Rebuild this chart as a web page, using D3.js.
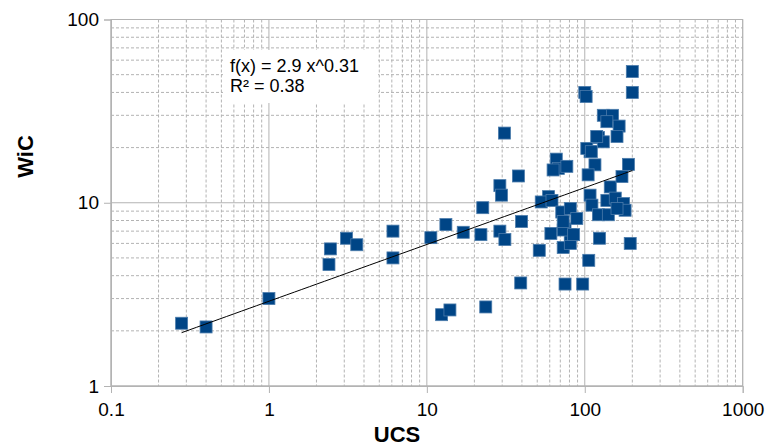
<!DOCTYPE html>
<html>
<head>
<meta charset="utf-8">
<script src="https://cdn.jsdelivr.net/npm/d3@7"></script>
<style>
  body { margin: 0; background: #fff; }
  text { font-family: "Liberation Sans", Arial, sans-serif; }
</style>
</head>
<body>
<div class="container"></div>
<script>
// data (log-log scatter)
var ucs = [0.28, 0.4, 1.0, 2.4, 2.45, 3.1, 3.6, 6.1, 6.1, 10.6, 13.2, 17, 22.6, 22, 29, 29.7, 29, 31.2,
  12.4, 14, 23.6, 39.8, 51.5, 61, 39.3, 75, 97, 106, 124, 194, 73, 81, 81, 75, 38, 31,
  66, 68, 77, 63, 59, 53, 62, 71.5, 81, 89, 73, 85, 108, 116, 105, 108, 111, 122, 141, 145,
  172, 189, 138, 156, 176, 180, 160, 100, 102, 200, 200, 131, 150, 138, 165, 160, 122, 131,
  103, 110, 119, 73];
var wic = [2.2, 2.1, 3.0, 4.6, 5.6, 6.4, 5.9, 7.0, 5.0, 6.45, 7.6, 6.9, 9.4, 6.7, 12.4, 11.0, 7.0, 6.3,
  2.45, 2.6, 2.7, 7.9, 5.5, 6.8, 3.65, 3.6, 3.6, 4.85, 6.4, 6.0, 5.7, 6.0, 6.7, 7.2, 14.0, 24,
  17.3, 15.4, 15.8, 15.1, 10.8, 10.1, 10.3, 8.9, 9.3, 8.2, 7.1, 6.7, 19.0, 16.1, 14.2, 11.0, 9.7, 8.6, 8.6, 12.2,
  13.9, 16.2, 10.3, 10.6, 9.9, 9.1, 9.3, 40, 38, 52, 40, 30, 30, 27.7, 26.2, 23, 22.7, 21.5,
  19.8, 19.0, 23, 7.9];

var xTicks = [0.1, 1, 10, 100, 1000];
var yTicks = [1, 10, 100];
var fitA = 2.9, fitB = 0.31;
var fitLines = ["f(x) = 2.9 x^0.31", "R\u00b2 = 0.38"];

var svgWidth = 770;
var svgHeight = 447;
var margin = { top: 19.5, right: 27.3, bottom: 61, left: 111 };
var width = svgWidth - margin.left - margin.right;
var height = svgHeight - margin.top - margin.bottom;

var svg = d3.select(".container")
  .append("svg")
  .attr("width", svgWidth)
  .attr("height", svgHeight);

var chartGroup = svg.append("g")
  .attr("transform", `translate(${margin.left}, ${margin.top})`);

var x = d3.scaleLog().domain([0.1, 1000]).range([0, width]);
var y = d3.scaleLog().domain([1, 100]).range([height, 0]);

// minor grid (dashed)
var minorX = [], minorY = [];
[0.1, 1, 10, 100].forEach(function(d) {
  for (var k = 2; k <= 9; k++) minorX.push(d * k);
});
[1, 10].forEach(function(d) {
  for (var k = 2; k <= 9; k++) minorY.push(d * k);
});

chartGroup.append("g").selectAll("line")
  .data(minorX)
  .enter().append("line")
  .attr("x1", d => x(d)).attr("x2", d => x(d))
  .attr("y1", 0).attr("y2", height)
  .attr("stroke", "#b3b3b3")
  .attr("stroke-dasharray", "3,2");

chartGroup.append("g").selectAll("line")
  .data(minorY)
  .enter().append("line")
  .attr("y1", d => y(d)).attr("y2", d => y(d))
  .attr("x1", 0).attr("x2", width)
  .attr("stroke", "#b3b3b3")
  .attr("stroke-dasharray", "3,2");

// major grid (solid)
chartGroup.append("g").selectAll("line")
  .data(xTicks)
  .enter().append("line")
  .attr("x1", d => x(d)).attr("x2", d => x(d))
  .attr("y1", 0).attr("y2", height)
  .attr("stroke", "#b3b3b3");

chartGroup.append("g").selectAll("line")
  .data(yTicks)
  .enter().append("line")
  .attr("y1", d => y(d)).attr("y2", d => y(d))
  .attr("x1", 0).attr("x2", width)
  .attr("stroke", "#b3b3b3");

// axes
var bottomAxis = d3.axisBottom(x).tickValues(xTicks).tickFormat(d3.format("")).tickSize(7).tickPadding(10);
var leftAxis = d3.axisLeft(y).tickValues(yTicks).tickFormat(d3.format("")).tickSize(7).tickPadding(5);

var xAxis = chartGroup.append("g")
  .attr("transform", `translate(0, ${height})`)
  .call(bottomAxis);
var yAxis = chartGroup.append("g")
  .call(leftAxis);

[xAxis, yAxis].forEach(function(ax) {
  ax.select(".domain").attr("stroke", "#b3b3b3");
  ax.selectAll(".tick line").attr("stroke", "#b3b3b3");
  ax.selectAll(".tick text")
    .attr("fill", "#000")
    .style("font-size", "19px")
    .style("font-family", "'Liberation Sans', Arial, sans-serif");
});

// equation label box
chartGroup.append("rect")
  .attr("x", 223 - margin.left)
  .attr("y", 50 - margin.top)
  .attr("width", 155)
  .attr("height", 53)
  .attr("fill", "#fff");

// trend line
var fitX = d3.range(0, 61).map(i => Math.pow(10, Math.log10(d3.min(ucs)) + i * (Math.log10(d3.max(ucs)) - Math.log10(d3.min(ucs))) / 60));
var line = d3.line()
  .x(d => x(d))
  .y(d => y(fitA * Math.pow(d, fitB)));

// points
var points = ucs.map((d, i) => ({ x: d, y: wic[i] }));
chartGroup.selectAll("rect.pt")
  .data(points)
  .enter()
  .append("rect")
  .attr("class", "pt")
  .attr("x", d => x(d.x) - 6)
  .attr("y", d => y(d.y) - 6)
  .attr("width", 12)
  .attr("height", 12)
  .attr("fill", "#004586")
  .attr("stroke", "#4a7bab")
  .attr("stroke-width", 0.8);

chartGroup.append("path")
  .datum(fitX)
  .attr("d", line)
  .attr("fill", "none")
  .attr("stroke", "#000")
  .attr("stroke-width", 1);

// top/right border
chartGroup.append("rect")
  .attr("width", width)
  .attr("height", height)
  .attr("fill", "none")
  .attr("stroke", "#b3b3b3");

var eq = chartGroup.append("text")
  .attr("x", 230 - margin.left)
  .attr("y", 71.5 - margin.top)
  .style("font-size", "18px")
  .attr("fill", "#000");
eq.selectAll("tspan")
  .data(fitLines)
  .enter().append("tspan")
  .attr("x", 230 - margin.left)
  .attr("dy", (d, i) => i === 0 ? 0 : 20)
  .text(d => d);

// axis titles
svg.append("text")
  .attr("x", 397)
  .attr("y", 442)
  .attr("text-anchor", "middle")
  .style("font-size", "22px")
  .style("font-weight", "bold")
  .text("UCS");

svg.append("text")
  .attr("transform", "translate(33, 156.5) rotate(-90)")
  .attr("text-anchor", "middle")
  .style("font-size", "22px")
  .style("font-weight", "bold")
  .text("WiC");
</script>
</body>
</html>
